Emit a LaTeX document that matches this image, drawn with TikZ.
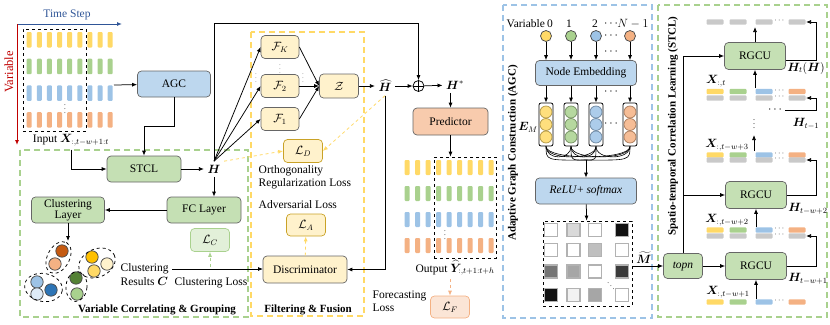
\documentclass[tikz,border=0pt]{standalone}
\usepackage{amsmath,amssymb,bm}
\usepackage{fontspec}
\setmainfont{Liberation Serif}
\usepackage{tikz}
\usetikzlibrary{arrows.meta,positioning,calc}
\usepackage{xcolor}
\definecolor{SeqYellow}{HTML}{FFD966}
\definecolor{SeqGreen}{HTML}{A9D18E}
\definecolor{SeqBlue}{HTML}{9DC3E6}
\definecolor{SeqOrange}{HTML}{F4B183}
\definecolor{SeqGray}{HTML}{C9C9C9}
\definecolor{BoxBlue}{HTML}{BDD7EE}
\definecolor{BoxGreen}{HTML}{C5E0B4}
\definecolor{BoxYellow}{HTML}{FFF2CC}
\definecolor{BoxOrange}{HTML}{F8CBAD}
\definecolor{LossGold}{HTML}{C9A227}
\definecolor{LossGreen}{HTML}{E2F0D9}
\definecolor{LossOrange}{HTML}{FBE5D6}
\definecolor{AxisBlue}{HTML}{2F5597}
\definecolor{AxisRed}{HTML}{C00000}

\begin{document}
\begin{tikzpicture}[x=1pt,y=-1pt,>={Latex[length=5pt,width=4pt]},line width=0.75pt,
  font=\fontsize{11.5}{12}\selectfont,
  n/.style={draw=black!60,rounded corners=4pt,line width=0.7pt,align=center,inner sep=1pt,
    minimum width=74,minimum height=26},
  ls/.style={n,minimum width=39,minimum height=23},
  frame/.style={dash pattern=on 6pt off 4pt,line width=1.3pt},
  vc/.style={circle,draw=black!70,minimum size=11,inner sep=0},
  col/.style={draw=black,rounded corners=2pt,minimum width=14,minimum height=43,inner sep=0},
  lossdash/.style={->,dashed,line width=0.8pt},
  dotsn/.style={inner sep=0,font=\fontsize{7}{7}\selectfont},
  lbl/.style={font=\fontsize{11}{12}\selectfont\bfseries}]
\useasboundingbox (0,0) rectangle (830,324);

% dashed frames
\draw[frame,SeqGreen] (20,150) rectangle (248,317);
\draw[frame,SeqYellow] (251,32) rectangle (364,316);
\draw[frame,SeqBlue] (503,5) rectangle (652,318);
\draw[frame,SeqGreen] (658,5) rectangle (827,317);

% input window
\draw[->,AxisBlue,line width=1pt] (17,24) -- (122,24);
\node[AxisBlue] (tstep) at (67,15) {Time Step};
\draw[->,AxisRed,line width=1pt] (17,24) -- (17,145);
\node[AxisRed,rotate=90,font=\fontsize{12.5}{13}\selectfont] (var) at (9,72) {Variable};
\foreach \c [count=\r from 0] in {SeqYellow,SeqGreen,SeqBlue,SeqOrange}
  \foreach \i in {0,...,8}
    \fill[\c,rounded corners=1pt] (26.7+10.12*\i,32+26.7*\r) rectangle ++(5,15.5);
\node[draw,dashed,minimum width=63,minimum height=102] (win) at (54.5,80) {};
\node[dotsn] (windots) at (65,106) {$\vdots$};
\node (inlbl) at (71,140) {Input $\bm{X}_{{:},t-w+1{:}t}$};
\coordinate (winout) at (114,85);

% variable correlating & grouping
\node[n,fill=BoxBlue,minimum width=73] (agc) at (174,84) {AGC};
\node[n,fill=BoxGreen] (stcl) at (144,169) {STCL};
\node (h) at (214,169) {$\bm{H}$};
\node[n,fill=BoxGreen] (fc) at (204,210) {FC Layer};
\node[n,fill=BoxGreen,minimum width=73,font=\fontsize{11.5}{11}\selectfont] (cl) at (68,210) {Clustering\\Layer};
\node[ls,draw=SeqGreen,fill=LossGreen] (lc) at (210,240) {$\mathcal{L}_C$};
\node[align=left,anchor=west,font=\fontsize{11.5}{14}\selectfont] (res) at (117,275) {Clustering\\Results $\bm{C}$};
\node (closs) at (211,283) {Clustering Loss};
\coordinate (g1) at (59,241);
\foreach \x/\y/\c in {62/251/C55A11,55/264/F4B183,92/257/FFC000,107/264/FFF2CC,94/271/FFD966,
    37/282/9DC3E6,51/290/2E75B6,37/294/DEEBF7,76/278/548235,77/294/A9D18E}{
  \definecolor{dotc}{HTML}{\c}
  \draw[black!70,fill=dotc] (\x,\y) circle[radius=6.2];
}
\draw[dashed] (58.5,257.5) ellipse[x radius=17,y radius=11,rotate=62];
\draw[dashed] (97,263) ellipse[x radius=19,y radius=14,rotate=25];
\draw[dashed] (43.5,287.5) ellipse[x radius=19,y radius=14,rotate=-10];
\draw[dashed] (76.5,286.5) ellipse[x radius=10.5,y radius=15,rotate=-5];
\node[lbl] (vcg) at (157,310) {Variable Correlating \& Grouping};

\draw[->] (winout) -- (agc);
\draw[->] (agc.south) -- ++(0,29) -| (stcl.north);
\draw[->] (inlbl.south) |- (stcl.west);
\draw[->] (stcl) -- (h);
\draw[->] (h.south) -- (h.south |- fc.north);
\draw[->] (fc) -- (cl);
\draw[->] (cl.south) -- (cl.south |- g1);
\draw[->] (res.east |- 0,269) -- (263,269);
\draw[lossdash,SeqGreen] (lc.south |- 0,267) -- (lc.south);

% filtering & fusion
\node[ls,fill=BoxYellow,minimum width=38] (fk) at (280,47) {$\mathcal{F}_K$};
\node[ls,fill=BoxYellow,minimum width=38] (f2) at (280,86) {$\mathcal{F}_2$};
\node[ls,fill=BoxYellow,minimum width=38] (f1) at (280,119) {$\mathcal{F}_1$};
\node[dotsn,black!50] (fdots) at (280,66) {$\vdots$};
\node[dotsn,black!50] (fdl) at (256,75) {$\vdots$};
\node[dotsn,black!50] (fdr) at (303,75) {$\vdots$};
\node[ls,fill=BoxYellow,minimum height=24] (z) at (339,86) {$\mathcal{Z}$};
\node (hhat) at (385,86) {$\widehat{\bm{H}}$};
\node[circle,draw,minimum size=11,inner sep=0] (oplus) at (418.5,86) {};
\draw (oplus.north) -- (oplus.south) (oplus.west) -- (oplus.east);
\node (hstar) at (455,85) {$\bm{H}^{*}$};
\node[ls,draw=LossGold,fill=BoxYellow] (ld) at (303,151) {$\mathcal{L}_D$};
\node[align=left,anchor=north west] (orth) at (255,162) {Orthogonality\\[1pt]Regularization Loss};
\node[anchor=west] (adv) at (255,205) {Adversarial Loss};
\node[ls,draw=LossGold,fill=BoxYellow,minimum height=22] (la) at (306,225) {$\mathcal{L}_A$};
\node[n,fill=BoxYellow,minimum width=84,minimum height=27] (disc) at (305,269.5) {Discriminator};
\node[lbl] (ff) at (308,310) {Filtering \& Fusion};

\foreach \f in {fk,f2,f1} \draw[->] (h.north) -- (\f.west);
\foreach \f in {fk,f2,f1} \draw[->] (\f.east) -- (z.west);
\draw[->] (h.north) -- (h.north |- 0,23) -| (oplus.north);
\draw[->] (z) -- (hhat);
\draw[->] (hhat) -- (oplus);
\draw[->] (oplus) -- (hstar);
\draw[->] (hhat.south) |- (disc.east);
\draw[lossdash,SeqYellow] (h.north east) -- (ld.west);
\draw[lossdash,SeqYellow] (hhat.south) -- (ld.east);
\draw[lossdash,SeqYellow] (disc) -- (la);

% forecasting
\node[n,fill=BoxOrange,minimum width=75,minimum height=27] (pred) at (450.5,121.5) {Predictor};
\foreach \c [count=\r from 0] in {SeqYellow,SeqGreen,SeqBlue,SeqOrange}
  \foreach \i in {0,...,8}
    \fill[\c,rounded corners=1pt] (404.5+10.5*\i,160+26*\r) rectangle ++(5,15);
\node[draw,dashed,minimum width=62,minimum height=101] (wout) at (465,207.5) {};
\node[dotsn] (outdots) at (445,232) {$\vdots$};
\node (outlbl) at (455,268) {Output $\widehat{\bm{Y}}_{{:},t+1{:}t+h}$};
\node[ls,draw=SeqOrange,fill=LossOrange,minimum height=22] (lf) at (450,307) {$\mathcal{L}_F$};
\node[align=left,anchor=west,font=\fontsize{11.5}{13}\selectfont] (floss) at (369,301) {Forecasting\\Loss};
\draw[->] (hstar.south -| pred.north) -- (pred.north);
\draw[->] (pred.south) -- (pred.south |- wout.north);
\draw[lossdash,SeqOrange] (lf.north |- outlbl.south) -- (lf.north);

% adaptive graph construction
\node[lbl,rotate=90] (agclbl) at (513,153) {Adaptive Graph Construction (AGC)};
\node[anchor=west] (varlbl) at (503,24) {Variable};
\foreach \v/\x in {0/550,1/569,2/595} \node (vn\v) at (\x,24) {\v};
\node (vndots) at (612,24) {$\cdots$};
\node (vnN) at (633,24) {$N-1$};
\node[n,fill=BoxBlue,minimum width=101,minimum height=25] (emb) at (586,73) {Node Embedding};
\foreach \c/\x [count=\k from 0] in {SeqYellow/546,SeqGreen/571,SeqBlue/596,SeqOrange/630}{
  \node[vc,fill=\c] (v\k) at (\x,36) {};
  \node[col] (c\k) at (\x,124.5) {};
  \foreach \y in {112,124.5,137}
    \draw[\c!70!black,fill=\c!85] (\x,\y) circle[radius=6];
  \draw[->] (v\k) -- (v\k |- emb.north);
  \draw[->] (emb.south -| c\k) -- (c\k);
}
\foreach \y [count=\k] in {36,52,92,124} \node[inner sep=0] (adots\k) at (612,\y) {$\cdots$};
\node (em) at (528,127) {$\bm{E}_M$};
\coordinate (mix) at (586,160);
\foreach \a in {0,...,3}{
  \foreach \b in {0,...,3}{
    \ifnum\a<\b \draw[line width=0.6pt] (c\a.south) .. controls +(0,14) and +(0,14) .. (c\b.south);\fi
  }
  \draw[line width=0.6pt] (c\a.south) .. controls +(0,14) .. (mix);
}
\node[n,fill=BoxBlue,minimum width=101] (relu) at (586,191) {\textit{ReLU}+ \textit{softmax}};
\draw[->] (mix) -- (relu);
\node[draw,dashed,minimum width=89,minimum height=85] (mat) at (587.5,263.5) {};
\draw[->] (relu) -- (mat);
\foreach \x/\y/\v in {551/230/0,573.5/230/15,595/230/0,622/230/93,
    551/250/0,573.5/250/0,595/250/25,622/250/0,
    551/271.5/54,573.5/271.5/35,595/271.5/0,622/271.5/77,
    551/295/93,573.5/295/5,595/295/35,622/295/0}
  \draw[black!30,line width=1.5pt,fill=black!\v] (\x-6.5,\y-6.5) rectangle (\x+6.5,\y+6.5);
\node[dotsn] (matdots) at (611,283) {$\ddots$};
\node[inner sep=0] (mlbl) at (644,258) {$\widetilde{\bm{M}}$};

% spatio-temporal correlation learning
\node[lbl,rotate=90] (stcllbl) at (673,126) {Spatio-temporal Correlation Learning (STCL)};
\node[n,fill=BoxGreen,minimum width=39,minimum height=25] (topn) at (683,266) {\textit{topn}};
\node[n,fill=BoxGreen,minimum width=61,minimum height=27] (r1) at (755,56) {RGCU};
\node[n,fill=BoxGreen,minimum width=61,minimum height=27] (r2) at (756,195) {RGCU};
\node[n,fill=BoxGreen,minimum width=61,minimum height=27] (r3) at (756,266) {RGCU};
\foreach \y in {91.5,155,230,302}
  \foreach \c/\x in {SeqYellow/715,SeqGreen/738,SeqBlue/764,SeqOrange/797}
    \fill[\c,rounded corners=1pt] (\x-8.5,\y-2.6) rectangle (\x+8.5,\y+2.6);
\foreach \y in {22,98,160,236}
  \foreach \x in {715,738,764,797}
    \fill[SeqGray,rounded corners=1pt] (\x-8.5,\y-2.6) rectangle (\x+8.5,\y+2.6);
\foreach \y [count=\k] in {22,91.5,98,155,160,230,236,302}
  \node[dotsn,font=\fontsize{8}{8}\selectfont] (sdots\k) at (780,\y-1) {$\cdots$};
\node (lx1) at (716,81) {$\bm{X}_{{:},t}$};
\node (lx3) at (727,145) {$\bm{X}_{{:},t-w+3}$};
\node (lx2) at (727,220) {$\bm{X}_{{:},t-w+2}$};
\node (lx4) at (728,292) {$\bm{X}_{{:},t-w+1}$};
\node (lh0) at (806,68) {$\bm{H}_t(\bm{H})$};
\node (lh1) at (806,124) {$\bm{H}_{t-1}$};
\node (lh2) at (808,209) {$\bm{H}_{t-w+2}$};
\node (lh3) at (808,279) {$\bm{H}_{t-w+1}$};
\node[inner sep=1pt] (hdots) at (776,110) {$\cdots$};
\node[dotsn,font=\fontsize{8}{8}\selectfont] (vdots) at (754,121) {$\vdots$};
\coordinate (o0) at (806,22);
\coordinate (o1) at (806,98);
\coordinate (o2) at (806,160);
\coordinate (o3) at (806,236);
\coordinate (t0) at (755,27);
\coordinate (x1) at (755,88);
\coordinate (x3) at (754,151);
\coordinate (x2) at (756,227);
\coordinate (x4) at (756,299);

\draw[->] (mat.east |- topn.west) -- (topn);
\draw[->] (topn) -- (r3);
\draw[->] (topn.north) |- (r1.west);
\draw[->] (topn.north |- r2.west) -- (r2);
\draw[->] (r1) -- (t0);
\draw[->] (x1) -- (r1);
\draw[->] (x3) -- ++(0,-16);
\draw[->] (x2) -- (r2);
\draw[->] (x4) -- (r3);
\draw[->] ([yshift=-4pt]r1.east) -| ($(o0)+(10,0)$) -- (o0);
\draw[->] (hdots.east) -| ($(o1)+(10,0)$) -- (o1);
\draw[->] (r2.east) -| ($(o2)+(10,0)$) -- (o2);
\draw[->] (r3.east) -| ($(o3)+(10,0)$) -- (o3);
\end{tikzpicture}
\end{document}
